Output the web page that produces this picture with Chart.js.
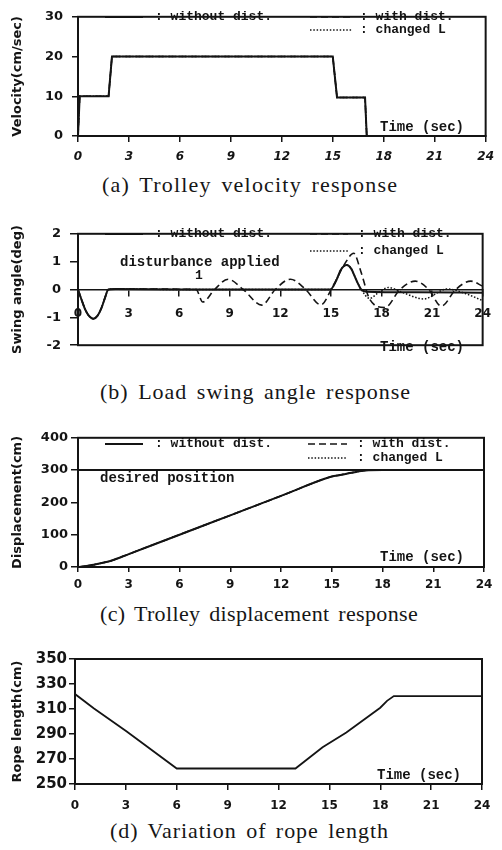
<!DOCTYPE html>
<html><head><meta charset="utf-8">
<script src="https://cdn.jsdelivr.net/npm/chart.js@4.4.1/dist/chart.umd.min.js"></script>
<style>
html,body{margin:0;padding:0;background:#fff}
body{width:502px;height:850px;position:relative;overflow:hidden}
canvas{position:absolute;left:0}
.cap{position:absolute;font-family:"Liberation Serif",serif;font-size:22px;line-height:24px;color:#161616;word-spacing:3px;white-space:nowrap}
</style></head><body>
<canvas id="ca" width="502" height="166" style="top:0px"></canvas>
<canvas id="cb" width="502" height="145" style="top:217px"></canvas>
<canvas id="cc" width="502" height="170" style="top:427px"></canvas>
<canvas id="cd" width="502" height="166" style="top:648px"></canvas>
<div class="cap" style="left:102px;top:173px;letter-spacing:1.2px">(a) Trolley velocity response</div>
<div class="cap" style="left:100px;top:380px;letter-spacing:1.0px">(b) Load swing angle response</div>
<div class="cap" style="left:100px;top:602px;letter-spacing:0.35px">(c) Trolley displacement response</div>
<div class="cap" style="left:110px;top:819px;letter-spacing:0.95px">(d) Variation of rope length</div>
<script>
// ---------- data ----------
const timeTicks = [0, 3, 6, 9, 12, 15, 18, 21, 24];

// (a) trolley velocity (cm/sec)
const velT      = [0, 0.1, 1.8, 2.0, 15.0, 15.25, 16.9, 17.0, 24];
const velNoDist = [0, 10, 10, 20, 20, 9.7, 9.7, 0, 0];
const velDist   = [0, 10, 10, 20, 20, 9.7, 9.7, 0, 0];
const velL      = [0, 10, 10, 20, 20, 9.7, 9.7, 0, 0];

// (b) load swing angle (deg)
const swT0      = [0, 0.2, 0.45, 0.7, 0.92, 1.15, 1.4, 1.6, 1.8, 2.2, 6, 10, 14.96, 15.3, 15.6, 15.94, 16.2, 16.5, 16.8, 17.1, 20, 24];
const swNoDist  = [0, -0.35, -0.75, -0.98, -1.05, -0.95, -0.65, -0.3, 0, 0.02, 0, 0, 0, 0.3, 0.72, 0.88, 0.75, 0.35, 0, -0.08, -0.1, -0.12];
const swT1      = [0, 0.2, 0.45, 0.7, 0.92, 1.15, 1.4, 1.6, 1.8, 2.2, 7.0, 7.4, 8.1, 8.9, 9.8, 10.9, 11.7, 12.6, 13.5, 14.4, 15.1, 15.8, 16.35, 16.8, 17.3, 18.2, 19.1, 20.0, 20.8, 21.55, 22.4, 23.3, 24];
const swDist    = [0, -0.35, -0.75, -0.98, -1.05, -0.95, -0.65, -0.3, 0, 0.02, 0, -0.45, 0, 0.37, 0, -0.56, 0, 0.37, 0, -0.55, 0.1, 0.9, 1.3, 0.6, -0.35, -0.65, 0, 0.3, 0, -0.6, 0, 0.3, 0.12];
const swT2      = [0, 0.2, 0.45, 0.7, 0.92, 1.15, 1.4, 1.6, 1.8, 2.2, 6, 10, 14.96, 15.3, 15.6, 15.94, 16.2, 16.5, 16.8, 17.3, 17.8, 18.4, 19.3, 20.5, 21.9, 23.0, 24];
const swChgL    = [0, -0.35, -0.75, -0.98, -1.05, -0.95, -0.65, -0.3, 0, 0.02, 0, 0, 0, 0.3, 0.72, 0.88, 0.75, 0.35, 0, -0.32, -0.12, 0.07, -0.12, -0.34, 0.02, -0.15, -0.4];

// (c) trolley displacement (cm)
const dispT      = [0, 0.5, 1.0, 1.8, 2.0, 3, 6, 9, 12, 15, 15.5, 16, 16.5, 17, 18, 24];
const dispNoDist = [0, 3, 8, 17, 20, 40, 100, 160, 220, 280, 285, 290, 295, 299, 300, 300];
const dispDist   = [0, 3, 8, 17, 20, 40, 100, 160, 220, 280, 285, 290, 295, 299, 300, 300];
const dispChgL   = [0, 3, 8, 17, 20, 40, 100, 160, 220, 280, 285, 290, 295, 299, 300, 300];
const desiredT   = [0, 24];
const desiredPos = [300, 300];

// (d) rope length (cm)
const ropeT   = [0, 1.1, 3.05, 6.0, 13.0, 14.6, 16.0, 18.0, 18.4, 18.8, 24];
const ropeLen = [322, 310.6, 292, 262.4, 262.4, 279.4, 291.2, 311, 316.5, 320.3, 320.3];

const yTicksA = [0, 10, 20, 30];
const yTicksB = [-2, -1, 0, 1, 2];
const yTicksC = [0, 100, 200, 300, 400];
const yTicksD = [250, 270, 290, 310, 330, 350];

// ---------- styling ----------
const INK = '#141414';
const pts = (T, V) => T.map((t, i) => ({x: t, y: V[i]}));
const SOLID = [], DASH = [7, 4], DOT = [1.5, 1.8];
function ds(label, T, V, dash, w, smooth) {
  return {label, data: pts(T, V), borderColor: INK, borderWidth: w, borderDash: dash,
    pointRadius: 0, fill: false, tension: 0,
    cubicInterpolationMode: smooth ? 'monotone' : 'default'};
}

const annot = {
  id: 'annot',
  afterDraw(chart, args, o) {
    const ctx = chart.ctx, a = chart.chartArea;
    ctx.save();
    ctx.strokeStyle = INK; ctx.lineWidth = 2; ctx.setLineDash([]);
    ctx.strokeRect(a.left, a.top, a.right - a.left, a.bottom - a.top);
    (o.lines || []).forEach(l => {
      ctx.setLineDash(l.dash); ctx.lineWidth = l.w;
      ctx.beginPath(); ctx.moveTo(l.x1, l.y); ctx.lineTo(l.x2, l.y); ctx.stroke();
    });
    ctx.setLineDash([]);
    ctx.fillStyle = INK; ctx.textBaseline = 'middle'; ctx.textAlign = 'left';
    (o.texts || []).forEach(t => { ctx.font = t.font; ctx.fillText(t.s, t.x, t.y); });
    ctx.restore();
  }
};

const LEG = "bold 13px 'Liberation Mono', monospace";
const TIME = "bold 14px 'Liberation Mono', monospace";
function legend(y1, y2, xs) {
  return {
    lines: [
      {x1: 105, x2: 143, y: y1, dash: SOLID, w: 2},
      {x1: xs[0], x2: xs[1], y: y1, dash: DASH, w: 1.6},
      {x1: xs[0], x2: xs[1], y: y2, dash: DOT, w: 1.4}
    ],
    texts: [
      {s: ': without dist.', x: 155, y: y1, font: LEG},
      {s: ': with dist.', x: xs[2], y: y1, font: LEG},
      {s: ': changed L', x: xs[2], y: y2, font: LEG}
    ]
  };
}

function makeChart(id, cfg) {
  const xFont = {family: "'DejaVu Sans', sans-serif", size: 12, weight: 'bold', style: cfg.italic ? 'italic' : 'normal'};
  const yFont = {family: "'DejaVu Sans', sans-serif", size: cfg.ySize || 13, weight: 'bold'};
  const xScale = {
    type: 'linear', min: 0, max: 24,
    afterBuildTicks: s => { s.ticks = timeTicks.map(v => ({value: v})); },
    ticks: {color: INK, font: xFont, padding: cfg.xPad, maxRotation: 0, autoSkip: false},
    grid: {drawOnChartArea: false, drawTicks: true, tickLength: cfg.xTick, color: INK, lineWidth: 1.5},
    border: {display: true, color: INK, width: 1.5},
    afterFit: s => { s.height = cfg.xH; }
  };
  if (cfg.xPos) xScale.position = cfg.xPos;
  const yScale = {
    type: 'linear', min: cfg.yTicks[0], max: cfg.yTicks[cfg.yTicks.length - 1],
    afterBuildTicks: s => { s.ticks = cfg.yTicks.map(v => ({value: v})); },
    ticks: {color: INK, font: yFont, padding: cfg.yPad},
    grid: {drawOnChartArea: false, drawTicks: true, tickLength: cfg.yTick, color: INK, lineWidth: 1.5},
    border: {display: true, color: INK, width: 2},
    title: {display: true, text: cfg.yTitle, color: INK, padding: {top: 10, bottom: 0},
      font: {family: "'DejaVu Sans', sans-serif", size: 13, weight: 'bold'}},
    afterFit: s => { s.width = cfg.L; }
  };
  return new Chart(document.getElementById(id), {
    type: 'line',
    data: {datasets: cfg.datasets},
    options: {
      responsive: false, animation: false, devicePixelRatio: 1,
      layout: {padding: {top: 9, left: 0, right: 502 - cfg.R, bottom: cfg.padB || 0}},
      scales: {x: xScale, y: yScale},
      plugins: {legend: {display: false}, tooltip: {enabled: false}, annot: cfg.annot}
    },
    plugins: [annot]
  });
}

// (a)
const annA = legend(17, 30, [310, 352, 360]);
annA.texts.push({s: 'Time (sec)', x: 380, y: 127, font: TIME});
makeChart('ca', {
  L: 78, R: 488, xH: 30, xTick: 6, xPad: 8, yTick: 6, yPad: 9, italic: true,
  yTicks: yTicksA, yTitle: 'Velocity(cm/sec)',
  datasets: [ds('without dist.', velT, velNoDist, SOLID, 2), ds('with dist.', velT, velDist, DASH, 1.6), ds('changed L', velT, velL, DOT, 1.4)],
  annot: annA
});

// (b)
const annB = legend(17, 34, [310, 348, 358]);
annB.texts.push({s: 'disturbance applied', x: 120, y: 45, font: "bold 14px 'Liberation Mono', monospace"});
annB.texts.push({s: '1', x: 195, y: 59, font: "bold 13px 'Liberation Mono', monospace"});
annB.texts.push({s: 'Time (sec)', x: 380, y: 130, font: TIME});
makeChart('cb', {
  L: 78, R: 485, xH: 0, padB: 8, xPos: {y: 0}, xTick: 6, xPad: 11, yTick: 8, yPad: 9,
  yTicks: yTicksB, yTitle: 'Swing angle(deg)',
  datasets: [ds('without dist.', swT0, swNoDist, SOLID, 2, true), ds('with dist.', swT1, swDist, DASH, 1.6, true), ds('changed L', swT2, swChgL, DOT, 1.5, true)],
  annot: annB
});

// (c)
const annC = legend(17, 31, [308, 347, 357]);
annC.texts.push({s: 'desired position', x: 100, y: 51, font: "bold 14px 'Liberation Mono', monospace"});
annC.texts.push({s: 'Time (sec)', x: 380, y: 130, font: TIME});
makeChart('cc', {
  L: 78, R: 484, xH: 30, xTick: 5, xPad: 6, yTick: 7, yPad: 3,
  yTicks: yTicksC, yTitle: 'Displacement(cm)',
  datasets: [ds('without dist.', dispT, dispNoDist, SOLID, 2, true), ds('with dist.', dispT, dispDist, DASH, 1.6, true), ds('changed L', dispT, dispChgL, DOT, 1.4, true),
             ds('desired position', desiredT, desiredPos, SOLID, 2)],
  annot: annC
});

// (d)
makeChart('cd', {
  L: 75, R: 482, xH: 30, xTick: 6, xPad: 9, yTick: 6, yPad: 2, ySize: 15,
  yTicks: yTicksD, yTitle: 'Rope length(cm)',
  datasets: [ds('rope length', ropeT, ropeLen, SOLID, 1.8)],
  annot: {texts: [{s: 'Time (sec)', x: 377, y: 127, font: TIME}]}
});
</script>
</body></html>
